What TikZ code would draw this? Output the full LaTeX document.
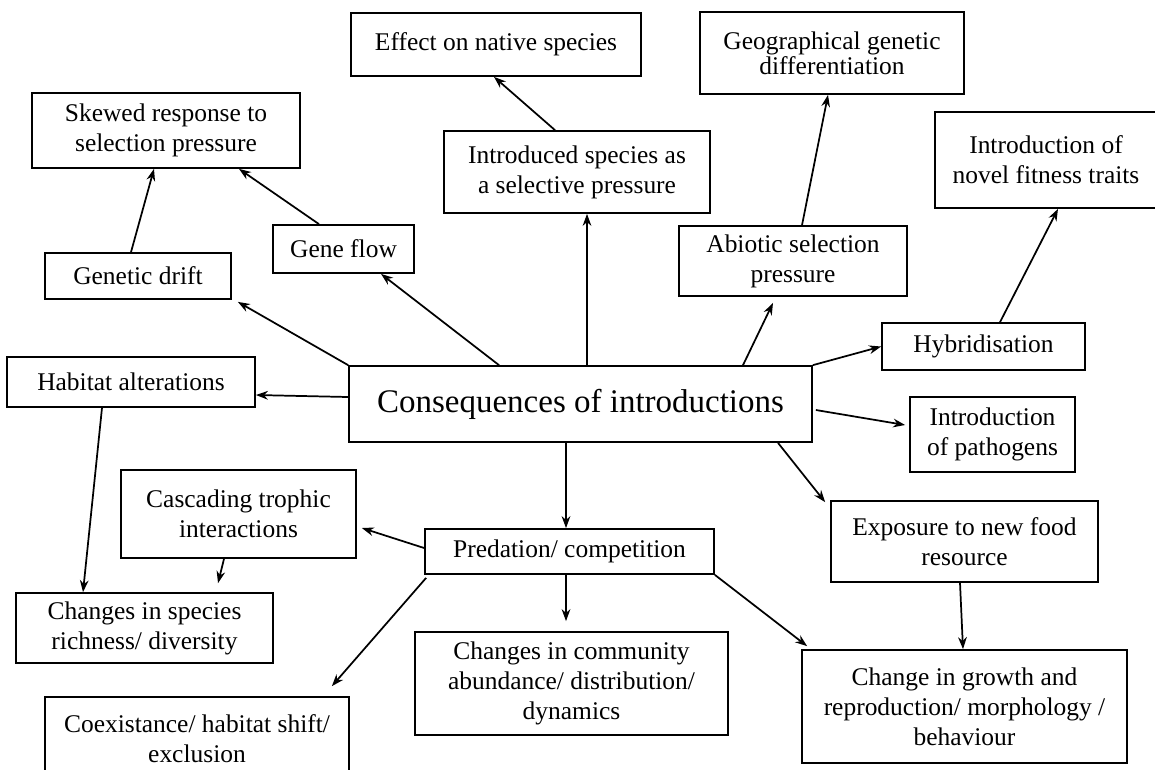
\documentclass[tikz,border=0pt]{standalone}
\usepackage{fontspec}
\setmainfont{Liberation Serif}
\usetikzlibrary{calc,arrows.meta}
\tikzset{
  box/.style={draw, line width=1.3pt, inner sep=0pt, align=center,
    font=\fontsize{19.1}{22.5}\selectfont},
  arr/.style={line width=1.3pt, -{Stealth[length=9pt,width=6.5pt]}},
}
\begin{document}
\begin{tikzpicture}[x=0.75pt,y=-0.75pt]
\useasboundingbox (0,0) rectangle (1155,769);
\begin{scope}
\clip (0,0) rectangle (1155,769);
\node[box, minimum width=290*0.75pt, minimum height=63*0.75pt] (effect) at (496,44.5) {Effect on native species};
\node[box, minimum width=264*0.75pt, minimum height=82*0.75pt, font=\fontsize{19.1}{16}\selectfont] (geo) at (832,53) {Geographical genetic\\differentiation};
\node[box, minimum width=268*0.75pt, minimum height=75*0.75pt] (skew) at (166,130.5) {Skewed response to\\selection pressure};
\node[box, minimum width=266*0.75pt, minimum height=82*0.75pt] (intro) at (577,172) {Introduced species as\\a selective pressure};
\node[box, minimum width=222*0.75pt, minimum height=96*0.75pt] (novel) at (1046,160) {Introduction of\\novel fitness traits};
\node[box, minimum width=141*0.75pt, minimum height=48*0.75pt] (gflow) at (343.5,249) {Gene flow};
\node[box, minimum width=186*0.75pt, minimum height=46*0.75pt] (drift) at (138,276) {Genetic drift};
\node[box, minimum width=228*0.75pt, minimum height=70*0.75pt] (abiotic) at (793,261) {Abiotic selection\\pressure};
\node[box, minimum width=203*0.75pt, minimum height=47*0.75pt] (hybrid) at (983.5,346.5) {Hybridisation};
\node[box, minimum width=248*0.75pt, minimum height=50*0.75pt] (habitat) at (131,382) {Habitat alterations};
\node[box, minimum width=463*0.75pt, minimum height=76*0.75pt, font=\fontsize{24.75}{29}\selectfont] (cons) at (580.5,404) {Consequences of introductions};
\node[box, minimum width=165*0.75pt, minimum height=75*0.75pt] (path) at (992.5,434.5) {Introduction\\of pathogens};
\node[box, minimum width=267*0.75pt, minimum height=81*0.75pt] (expo) at (964.5,541.5) {Exposure to new food\\resource};
\node[box, minimum width=235*0.75pt, minimum height=88*0.75pt] (casc) at (238.5,514) {Cascading trophic\\interactions};
\node[box, minimum width=289*0.75pt, minimum height=45*0.75pt] (pred) at (569.5,551.5) {Predation/ competition};
\node[box, minimum width=257*0.75pt, minimum height=70*0.75pt] (rich) at (144.5,628) {Changes in species\\richness/ diversity};
\node[box, minimum width=313*0.75pt, minimum height=103*0.75pt] (comm) at (571.5,683.5) {Changes in community\\abundance/ distribution/\\dynamics};
\node[box, minimum width=304*0.75pt, minimum height=84*0.75pt] (coex) at (197,739) {Coexistance/ habitat shift/\\exclusion};
\node[box, minimum width=325*0.75pt, minimum height=113*0.75pt] (grow) at (964.5,706.5) {Change in growth and\\reproduction/ morphology /\\behaviour};

\draw[arr] ($(intro.north)+(-22,0)$) -- ($(effect.south)+(-2,0)$);
\draw[arr] ($(drift.north)+(-7,0)$) -- ($(skew.south)+(-12,0)$);
\draw[arr] ($(gflow.north)+(-24.5,0)$) -- ($(skew.south)+(73,0)$);
\draw[arr] (cons.north west) -- ($(drift.south east)+(6,2)$);
\draw[arr] ($(cons.north)+(-81.5,0)$) -- ($(gflow.south)+(37.5,0)$);
\draw[arr] ($(cons.west)+(0,-7)$) -- ($(habitat.east)+(0,13)$);
\draw[arr] ($(cons.north)+(6.5,0)$) -- ($(intro.south)+(10,0)$);
\draw[arr] ($(cons.north)+(162.5,0)$) -- ($(abiotic.south)+(-20,6)$);
\draw[arr] ($(abiotic.north)+(9,0)$) -- ($(geo.south)+(-4,0)$);
\draw[arr] (cons.north east) -- (hybrid.west);
\draw[arr] ($(hybrid.north)+(16.5,0)$) -- ($(novel.south)+(12,0)$);
\draw[arr] ($(cons.east)+(3,6)$) -- ($(path.west)+(-4,-9.5)$);
\draw[arr] ($(cons.south)+(197.5,0)$) -- ($(expo.north west)+(-5,2)$);
\draw[arr] ($(cons.south)+(-14.5,0)$) -- ($(pred.north)+(-3.5,0)$);
\draw[arr] ($(habitat.south)+(-29,0)$) -- ($(rich.north)+(-61.5,0)$);
\draw[arr] ($(casc.south)+(-14.5,0)$) -- ($(rich.north)+(73.5,-9)$);
\draw[arr] ($(pred.west)+(0,-3.5)$) -- ($(casc.east)+(5,14)$);
\draw[arr] ($(pred.south)+(-3.5,0)$) -- ($(comm.north)+(-5.5,-10)$);
\draw[arr] ($(pred.south west)+(2,3)$) -- ($(coex.north east)+(-18,-10)$);
\draw[arr] (pred.south east) -- ($(grow.north west)+(6,-3)$);
\draw[arr] ($(expo.south)+(-4.5,0)$) -- ($(grow.north)+(-1.5,0)$);
\end{scope}
\end{tikzpicture}
\end{document}
